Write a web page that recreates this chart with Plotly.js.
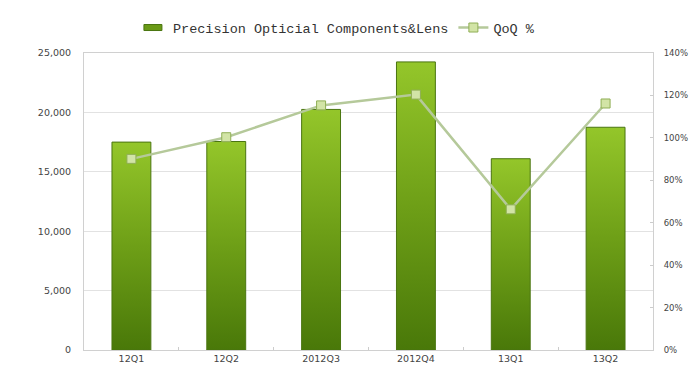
<!DOCTYPE html>
<html>
<head>
<meta charset="utf-8">
<script src="https://cdn.plot.ly/plotly-3.0.1.min.js"></script>
<style>html,body{margin:0;padding:0;background:#fff;}#chart{width:690px;height:367px;}</style>
</head>
<body>
<div id="chart"></div>
<script>
var categories = ["12Q1", "12Q2", "2012Q3", "2012Q4", "13Q1", "13Q2"];
var revenue = [17500, 17550, 20250, 24250, 16100, 18750];
var qoq = [90.1, 100.3, 115.3, 120.4, 66.3, 116.2];
var leftTicks = [0, 5000, 10000, 15000, 20000, 25000];
var leftTickText = ["0", "5,000", "10,000", "15,000", "20,000", "25,000"];
var rightTicks = [0, 20, 40, 60, 80, 100, 120, 140];
var rightTickText = ["0%", "20%", "40%", "60%", "80%", "100%", "120%", "140%"];

var tickFont = {family: "DejaVu Sans, Verdana, sans-serif", size: 9.5, color: "#444"};
var rightFont = {family: "DejaVu Sans, Verdana, sans-serif", size: 8.5, color: "#444"};

var traces = [
  {
    type: "bar",
    name: "Precision Opticial Components&Lens",
    x: categories,
    y: revenue,
    marker: {color: "#6d9e18", line: {color: "#4a7510", width: 1}},
    yaxis: "y"
  },
  {
    type: "scatter",
    mode: "lines+markers",
    name: "QoQ %",
    x: categories,
    y: qoq,
    yaxis: "y2",
    line: {color: "#b5c99a", width: 2.5},
    marker: {symbol: "square", size: 9, color: "#d2e4a6", line: {color: "#8fae55", width: 1}}
  }
];

var layout = {
  width: 690,
  height: 367,
  margin: {l: 84, r: 37, t: 50, b: 17},
  paper_bgcolor: "#ffffff",
  plot_bgcolor: "#ffffff",
  bargap: 0.59,
  showlegend: true,
  legend: {
    orientation: "h",
    x: 0.086,
    xanchor: "left",
    y: 1.085,
    yanchor: "middle",
    font: {family: "Liberation Mono, monospace", size: 13.5, color: "#333"},
    itemwidth: 30,
    bgcolor: "rgba(0,0,0,0)"
  },
  xaxis: {
    type: "category",
    tickfont: tickFont,
    showgrid: false,
    showline: true,
    linecolor: "#d0d0d0",
    linewidth: 1,
    mirror: true,
    ticks: "inside",
    ticklen: 3,
    tickcolor: "#cccccc",
    tickson: "boundaries",
    fixedrange: true
  },
  yaxis: {
    range: [0, 25000],
    tickvals: leftTicks,
    ticktext: leftTickText,
    tickfont: tickFont,
    showgrid: true,
    gridcolor: "#e2e2e2",
    zeroline: false,
    showline: true,
    linecolor: "#d0d0d0",
    ticks: "",
    ticklabelstandoff: 10,
    fixedrange: true
  },
  yaxis2: {
    overlaying: "y",
    side: "right",
    range: [0, 140],
    tickvals: rightTicks,
    ticktext: rightTickText,
    tickfont: rightFont,
    showgrid: false,
    zeroline: false,
    showline: true,
    linecolor: "#d0d0d0",
    ticks: "inside",
    ticklen: 3,
    tickcolor: "#cccccc",
    ticklabelstandoff: 8,
    fixedrange: true
  }
};

Plotly.newPlot("chart", traces, layout, {displayModeBar: false, staticPlot: true}).then(function (gd) {
  var svg = gd.querySelector("svg.main-svg");
  var ns = "http://www.w3.org/2000/svg";
  var defs = svg.querySelector("defs") || svg.insertBefore(document.createElementNS(ns, "defs"), svg.firstChild);
  var grad = document.createElementNS(ns, "linearGradient");
  grad.setAttribute("id", "barGrad");
  grad.setAttribute("x1", "0"); grad.setAttribute("y1", "0");
  grad.setAttribute("x2", "0"); grad.setAttribute("y2", "1");
  [["0", "#94c62a"], ["0.5", "#6e9f17"], ["1", "#497809"]].forEach(function (s) {
    var st = document.createElementNS(ns, "stop");
    st.setAttribute("offset", s[0]);
    st.setAttribute("stop-color", s[1]);
    grad.appendChild(st);
  });
  defs.appendChild(grad);
  gd.querySelectorAll(".barlayer .point path").forEach(function (p) {
    p.style.fill = "url(#barGrad)";
  });
  gd.querySelectorAll(".legend .legendbar path, .legend .legendpoints path.legendundefined").forEach(function (p) {
    p.setAttribute("d", "M-9,-3h18v6h-18Z");
    p.style.fill = "#6a9a16";
  });
});
</script>
</body>
</html>
